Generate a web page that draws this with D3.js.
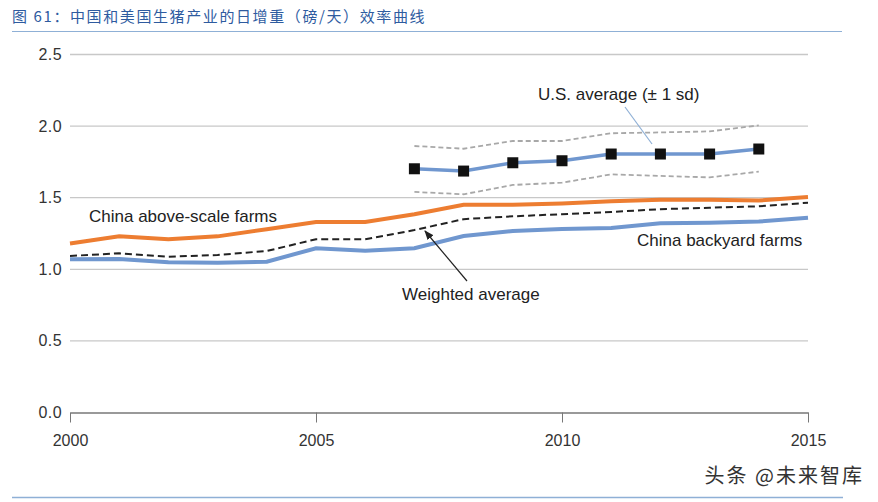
<!DOCTYPE html>
<html>
<head>
<meta charset="utf-8">
<script src="https://cdn.jsdelivr.net/npm/d3@7"></script>
<style>
  body { margin: 0; background: #fff; }
  svg { display: block; font-family: "Liberation Sans", Arial, sans-serif; }
</style>
</head>
<body>
<script>
// years on the x axis
const years = d3.range(2000, 2016);
const usYears = d3.range(2007, 2015);

// daily gain, lb/day
const aboveScale = [1.18, 1.23, 1.21, 1.23, 1.28, 1.33, 1.33, 1.384, 1.45, 1.45, 1.46, 1.475, 1.485, 1.485, 1.48, 1.505];
const weighted   = [1.093, 1.112, 1.088, 1.10, 1.128, 1.21, 1.21, 1.274, 1.35, 1.37, 1.385, 1.40, 1.42, 1.43, 1.44, 1.465];
const backyard   = [1.07, 1.072, 1.049, 1.046, 1.053, 1.147, 1.13, 1.147, 1.232, 1.267, 1.281, 1.288, 1.321, 1.325, 1.333, 1.36];
const usAvg      = [1.702, 1.686, 1.744, 1.758, 1.805, 1.805, 1.805, 1.840];
const usUpper    = [1.861, 1.842, 1.896, 1.896, 1.95, 1.956, 1.963, 2.005];
const usLower    = [1.54, 1.524, 1.589, 1.605, 1.663, 1.652, 1.642, 1.682];

const yTicks = [0, 0.5, 1.0, 1.5, 2.0, 2.5];
const xTicks = [2000, 2005, 2010, 2015];

function main() {
    const W = 878, H = 502;
    const svg = d3.select("body").append("svg")
        .attr("width", W)
        .attr("height", H);

    // title + rules
    svg.append("text")
        .attr("x", 12).attr("y", 22)
        .attr("font-family", "'Noto Sans CJK SC', sans-serif")
        .attr("font-size", 15)
        .attr("letter-spacing", 1.6)
        .attr("fill", "#2e5b9f")
        .text("图 61：中国和美国生猪产业的日增重（磅/天）效率曲线");
    svg.append("line")
        .attr("x1", 12).attr("x2", 842).attr("y1", 31.5).attr("y2", 31.5)
        .attr("stroke", "#8fb0d6").attr("stroke-width", 1.2);
    svg.append("line")
        .attr("x1", 12).attr("x2", 843).attr("y1", 497.5).attr("y2", 497.5)
        .attr("stroke", "#8fb0d6").attr("stroke-width", 1.5);

    const x = d3.scaleLinear().domain([2000, 2015]).range([70, 808]);
    const y = d3.scaleLinear().domain([0, 2.5]).range([412.5, 54.5]);

    // gridlines
    svg.append("g").selectAll("line")
        .data(yTicks.filter(d => d > 0))
        .join("line")
        .attr("x1", x(2000)).attr("x2", x(2015))
        .attr("y1", d => y(d)).attr("y2", d => y(d))
        .attr("stroke", "#c8c8c8").attr("stroke-width", 1.3);

    // y labels
    svg.append("g").selectAll("text")
        .data(yTicks)
        .join("text")
        .attr("x", 62).attr("y", d => y(d) + 5.5)
        .attr("text-anchor", "end")
        .attr("font-size", 16)
        .attr("letter-spacing", 0.4)
        .attr("fill", "#333")
        .text(d3.format(".1f"));

    // x axis
    const xAxis = svg.append("g")
        .attr("transform", `translate(0,${y(0)})`)
        .call(d3.axisBottom(x).tickValues(xTicks).tickFormat(d3.format("d"))
            .tickSize(12).tickSizeOuter(0).tickPadding(10));
    xAxis.select(".domain").attr("stroke", "#777").attr("stroke-width", 1.3);
    xAxis.selectAll(".tick line").attr("stroke", "#777").attr("y1", 0).attr("y2", 10);
    xAxis.selectAll(".tick text")
        .attr("font-size", 16).attr("fill", "#333");

    const line = d3.line()
        .x(d => x(d[0]))
        .y(d => y(d[1]));

    const zipped = (ys, vs) => ys.map((yr, i) => [yr, vs[i]]);

    // US ±1 sd
    [usUpper, usLower].forEach(s => {
        svg.append("path")
            .attr("d", line(zipped(usYears, s)))
            .attr("fill", "none")
            .attr("stroke", "#a8a8a8")
            .attr("stroke-width", 1.8)
            .attr("stroke-dasharray", "5,3");
    });

    // China lines
    svg.append("path")
        .attr("d", line(zipped(years, backyard)))
        .attr("fill", "none").attr("stroke", "#7097cf").attr("stroke-width", 4);
    svg.append("path")
        .attr("d", line(zipped(years, aboveScale)))
        .attr("fill", "none").attr("stroke", "#ed7d31").attr("stroke-width", 4);
    svg.append("path")
        .attr("d", line(zipped(years, weighted)))
        .attr("fill", "none").attr("stroke", "#222").attr("stroke-width", 2)
        .attr("stroke-dasharray", "7,4");

    // US average
    svg.append("path")
        .attr("d", line(zipped(usYears, usAvg)))
        .attr("fill", "none").attr("stroke", "#7097cf").attr("stroke-width", 3.5);
    svg.append("g").selectAll("rect")
        .data(zipped(usYears, usAvg))
        .join("rect")
        .attr("x", d => x(d[0]) - 5.5).attr("y", d => y(d[1]) - 5.5)
        .attr("width", 11).attr("height", 11)
        .attr("fill", "#111");

    // annotations
    const lab = (tx, ty, str) => svg.append("text")
        .attr("x", tx).attr("y", ty)
        .attr("font-size", 17).attr("fill", "#222")
        .text(str);
    lab(89, 222, "China above-scale farms");
    lab(637, 246, "China backyard farms");
    lab(402, 300, "Weighted average");
    lab(538, 100, "U.S. average (± 1 sd)");

    svg.append("line")
        .attr("x1", 625).attr("y1", 107).attr("x2", 652).attr("y2", 144)
        .attr("stroke", "#8fb0d6").attr("stroke-width", 1.2);

    svg.append("defs").append("marker")
        .attr("id", "arr")
        .attr("viewBox", "0 0 10 10")
        .attr("refX", 9).attr("refY", 5)
        .attr("markerWidth", 8).attr("markerHeight", 8)
        .attr("orient", "auto")
        .append("path").attr("d", "M0,1 L10,5 L0,9 Z").attr("fill", "#222");
    svg.append("line")
        .attr("x1", 467).attr("y1", 281).attr("x2", 425).attr("y2", 231)
        .attr("stroke", "#222").attr("stroke-width", 1.2)
        .attr("marker-end", "url(#arr)");

    // watermark
    svg.append("text")
        .attr("x", 864).attr("y", 483)
        .attr("text-anchor", "end")
        .attr("font-family", "'Noto Sans CJK SC', sans-serif")
        .attr("font-size", 20).attr("letter-spacing", 2)
        .attr("fill", "#333")
        .text("头条 @未来智库");
}
window.onload = main;
</script>
</body>
</html>
